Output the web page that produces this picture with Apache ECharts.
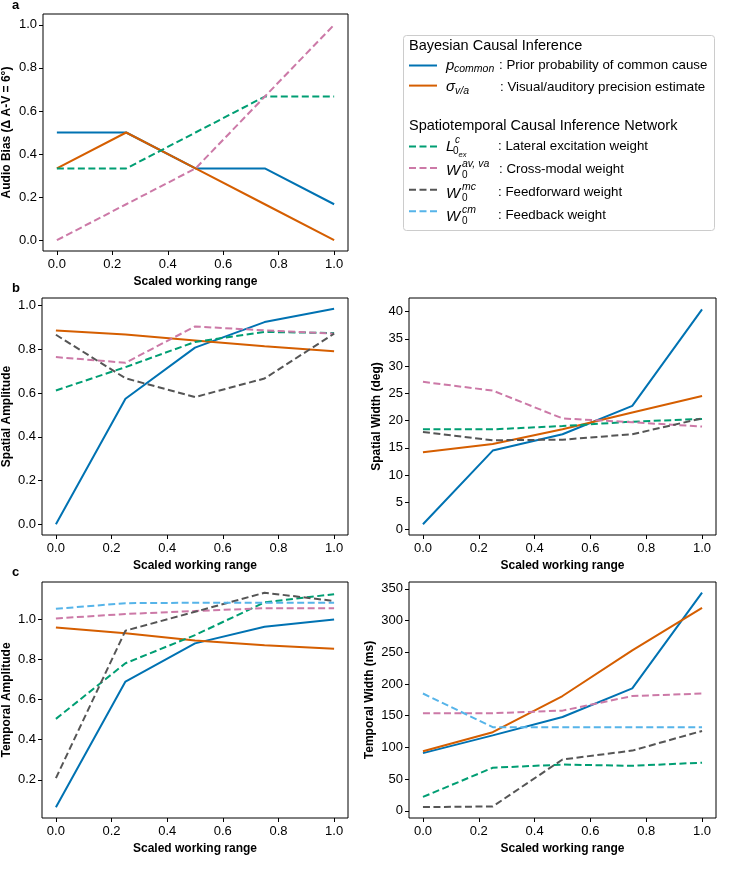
<!DOCTYPE html>
<html>
<head>
<meta charset="utf-8">
<script src="https://cdn.jsdelivr.net/npm/echarts@6/dist/echarts.min.js"></script>
<style>
  html, body { margin: 0; padding: 0; background: #fff; }
  #chart { width: 750px; height: 894px; }
</style>
</head>
<body>
<div id="chart"></div>
<script>
// x positions (scaled working range)
const xs = [0, 0.25, 0.5, 0.75, 1.0];
const xTicks = [0, 0.2, 0.4, 0.6, 0.8, 1.0];

// a: audio bias
const biasPCommon = [0.5, 0.5, 0.333, 0.333, 0.167];
const biasSigma   = [0.333, 0.5, 0.333, 0.167, 0.0];
const biasLat     = [0.333, 0.333, 0.5, 0.667, 0.667];
const biasCross   = [0.0, 0.167, 0.333, 0.667, 1.0];

// b: spatial amplitude
const spAmpPCommon = [0.0, 0.574, 0.808, 0.925, 0.986];
const spAmpSigma   = [0.887, 0.868, 0.841, 0.814, 0.792];
const spAmpLat     = [0.612, 0.719, 0.834, 0.880, 0.875];
const spAmpCross   = [0.765, 0.739, 0.905, 0.887, 0.872];
const spAmpFF      = [0.867, 0.668, 0.582, 0.667, 0.872];

// b: spatial width (deg)
const spWidPCommon = [1.0, 14.5, 17.5, 22.7, 40.4];
const spWidSigma   = [14.2, 15.7, 18.4, 21.5, 24.5];
const spWidLat     = [18.4, 18.4, 19.0, 19.8, 20.3];
const spWidCross   = [27.1, 25.5, 20.4, 19.7, 18.9];
const spWidFF      = [17.9, 16.4, 16.5, 17.5, 20.4];

// c: temporal amplitude
const tmAmpPCommon = [0.063, 0.689, 0.879, 0.962, 0.998];
const tmAmpSigma   = [0.958, 0.929, 0.893, 0.869, 0.852];
const tmAmpLat     = [0.503, 0.780, 0.920, 1.083, 1.124];
const tmAmpCross   = [1.003, 1.025, 1.040, 1.054, 1.054];
const tmAmpFF      = [0.208, 0.942, 1.036, 1.131, 1.090];
const tmAmpFB      = [1.051, 1.079, 1.081, 1.081, 1.081];

// c: temporal width (ms)
const tmWidPCommon = [91, 119, 148, 193, 344];
const tmWidSigma   = [94, 124, 181, 253, 320];
const tmWidLat     = [22, 68, 73, 71, 76];
const tmWidCross   = [154, 154, 158, 181, 185];
const tmWidFF      = [6, 7, 81, 95, 126];
const tmWidFB      = [185, 132, 132, 132, 132];

// y tick labels
const yTicksUnit  = [0, 0.2, 0.4, 0.6, 0.8, 1.0];
const yTicksSpWid = [0, 5, 10, 15, 20, 25, 30, 35, 40];
const yTicksTmAmp = [0.2, 0.4, 0.6, 0.8, 1.0];
const yTicksTmWid = [0, 50, 100, 150, 200, 250, 300, 350];

const FONT = "'Liberation Sans', Arial, Helvetica, sans-serif";

// line look of each model parameter
const styles = {
  pcommon: { color: '#0072B2', dash: 'solid' },
  sigma:   { color: '#D55E00', dash: 'solid' },
  lat:     { color: '#009E73', dash: [7, 3.5] },
  cross:   { color: '#CC79A7', dash: [7, 3.5] },
  ff:      { color: '#555555', dash: [7, 3.5] },
  fb:      { color: '#56B4E9', dash: [7, 3.5] }
};

function line(name, gi, values) {
  const st = styles[name];
  return {
    name: name,
    type: 'line',
    xAxisIndex: gi,
    yAxisIndex: gi,
    symbol: 'none',
    data: xs.map((x, i) => [x, values[i]]),
    lineStyle: { color: st.color, width: 2, type: st.dash },
    itemStyle: { color: st.color },
    silent: true
  };
}

// 5 panels: a, b-left, b-right, c-left, c-right
const grids = [
  { left: 41,  top: 14,  width: 307, height: 237 },
  { left: 41,  top: 298, width: 307, height: 237 },
  { left: 409, top: 298, width: 307, height: 237 },
  { left: 41,  top: 582, width: 307, height: 236 },
  { left: 409, top: 582, width: 307, height: 236 }
].map(g => Object.assign({ show: true, borderColor: '#000', borderWidth: 1, backgroundColor: 'transparent' }, g));

const xAxes = grids.map((g, i) => ({
  type: 'value',
  gridIndex: i,
  min: -0.05,
  max: 1.05,
  name: 'Scaled working range',
  nameLocation: 'middle',
  nameGap: 25,
  nameTextStyle: { fontFamily: FONT, fontWeight: 'bold', fontSize: 12, color: '#000' },
  axisLine: { show: false, onZero: false },
  axisTick: { show: true, inside: false, length: 4, customValues: xTicks, lineStyle: { color: '#000' } },
  axisLabel: { customValues: xTicks, formatter: v => v.toFixed(1), fontFamily: FONT, fontSize: 13, color: '#000', margin: 7 },
  splitLine: { show: false }
}));

function yAxis(i, name, min, max, ticks, dec, gap) {
  return {
    type: 'value',
    gridIndex: i,
    min: min,
    max: max,
    name: name,
    nameLocation: 'middle',
    nameGap: gap,
    nameTextStyle: { fontFamily: FONT, fontWeight: 'bold', fontSize: 12, color: '#000' },
    axisLine: { show: false, onZero: false },
    axisTick: { show: true, inside: false, length: 4, customValues: ticks, lineStyle: { color: '#000' } },
    axisLabel: { customValues: ticks, formatter: v => v.toFixed(dec), fontFamily: FONT, fontSize: 13, color: '#000', margin: 6 },
    splitLine: { show: false }
  };
}

const yAxes = [
  yAxis(0, 'Audio Bias (Δ A-V = 6°)', -0.05, 1.05, yTicksUnit, 1, 30),
  yAxis(1, 'Spatial Amplitude', -0.0493, 1.0353, yTicksUnit, 1, 29),
  yAxis(2, 'Spatial Width (deg)', -0.975, 42.475, yTicksSpWid, 0, 26),
  yAxis(3, 'Temporal Amplitude', 0.0096, 1.1844, yTicksTmAmp, 1, 29),
  yAxis(4, 'Temporal Width (ms)', -11.2, 360.7, yTicksTmWid, 0, 33)
];

const series = [
  line('pcommon', 0, biasPCommon), line('sigma', 0, biasSigma),
  line('lat', 0, biasLat), line('cross', 0, biasCross),

  line('pcommon', 1, spAmpPCommon), line('sigma', 1, spAmpSigma),
  line('lat', 1, spAmpLat), line('cross', 1, spAmpCross), line('ff', 1, spAmpFF),

  line('pcommon', 2, spWidPCommon), line('sigma', 2, spWidSigma),
  line('lat', 2, spWidLat), line('cross', 2, spWidCross), line('ff', 2, spWidFF),

  line('pcommon', 3, tmAmpPCommon), line('sigma', 3, tmAmpSigma),
  line('lat', 3, tmAmpLat), line('cross', 3, tmAmpCross), line('ff', 3, tmAmpFF), line('fb', 3, tmAmpFB),

  line('pcommon', 4, tmWidPCommon), line('sigma', 4, tmWidSigma),
  line('lat', 4, tmWidLat), line('cross', 4, tmWidCross), line('ff', 4, tmWidFF), line('fb', 4, tmWidFB)
];

// legend rows (y centre)
const R = [65.5, 87, 146.5, 169.5, 192.5, 215.5];

function txt(s, x, y, size, opts) {
  opts = opts || {};
  return {
    type: 'text', x: x, y: y, z: 10, silent: true,
    style: {
      text: s, fill: '#000',
      font: (opts.italic ? 'italic ' : '') + (opts.bold ? 'bold ' : '') + size + 'px ' + FONT,
      textAlign: 'left', textVerticalAlign: 'middle'
    }
  };
}

const graphics = [
  // legend frame
  { type: 'rect', z: 1, silent: true, shape: { x: 403.5, y: 35.5, width: 311, height: 195, r: 3 },
    style: { fill: '#fff', stroke: '#cccccc', lineWidth: 1 } },
  txt('Bayesian Causal Inference', 409, 45.7, 14.5),
  txt('Spatiotemporal Causal Inference Network', 409, 126, 14.5),

  // math symbols
  txt('p', 446, R[0] + 0.5, 15, { italic: true }),
  txt('common', 454, R[0] + 4, 10.5, { italic: true }),
  txt('σ', 446, R[1] - 0.5, 15, { italic: true }),
  txt('v/a', 455, R[1] + 4, 10.5, { italic: true }),
  txt('L', 446, R[2], 15, { italic: true }),
  txt('c', 455, R[2] - 6, 10, { italic: true }),
  txt('0', 453, R[2] + 4.5, 10),
  txt('ex', 458.5, R[2] + 8.5, 7.5, { italic: true }),
  txt('W', 446, R[3] + 1, 15, { italic: true }),
  txt('av, va', 462, R[3] - 5, 10.5, { italic: true }),
  txt('0', 462, R[3] + 5.5, 10),
  txt('W', 446, R[4] + 1, 15, { italic: true }),
  txt('mc', 462, R[4] - 5, 10.5, { italic: true }),
  txt('0', 462, R[4] + 5.5, 10),
  txt('W', 446, R[5] + 1, 15, { italic: true }),
  txt('cm', 462, R[5] - 5, 10.5, { italic: true }),
  txt('0', 462, R[5] + 5.5, 10),

  // descriptions
  txt(': Prior probability of common cause', 499, R[0], 13.3),
  txt(': Visual/auditory precision estimate', 500, R[1], 13.3),
  txt(': Lateral excitation weight', 498, R[2], 13.3),
  txt(': Cross-modal weight', 499, R[3], 13.3),
  txt(': Feedforward weight', 498, R[4], 13.3),
  txt(': Feedback weight', 498, R[5], 13.3),

  // panel letters
  txt('a', 12, 5, 13, { bold: true }),
  txt('b', 12, 288, 13, { bold: true }),
  txt('c', 12, 572, 13, { bold: true })
];

const legendBase = {
  orient: 'vertical',
  left: 408,
  padding: 0,
  itemWidth: 28,
  itemHeight: 14,
  selectedMode: false,
  formatter: () => '',
  textStyle: { fontSize: 1 },
  // hide the marker dot, keep only the line sample
  itemStyle: { opacity: 0, color: 'rgba(0,0,0,0)', borderColor: 'rgba(0,0,0,0)', borderWidth: 0 },
  z: 5
};

const chart = echarts.init(document.getElementById('chart'));
chart.setOption({
  animation: false,
  backgroundColor: '#fff',
  grid: grids,
  xAxis: xAxes,
  yAxis: yAxes,
  legend: [
    Object.assign({}, legendBase, { top: R[0] - 7, itemGap: R[1] - R[0] - 14, data: ['pcommon', 'sigma'] }),
    Object.assign({}, legendBase, { top: R[2] - 7, itemGap: R[3] - R[2] - 14, data: ['lat', 'cross', 'ff', 'fb'] })
  ],
  graphic: graphics,
  series: series
});
window.addEventListener('resize', () => chart.resize());
</script>
</body>
</html>
